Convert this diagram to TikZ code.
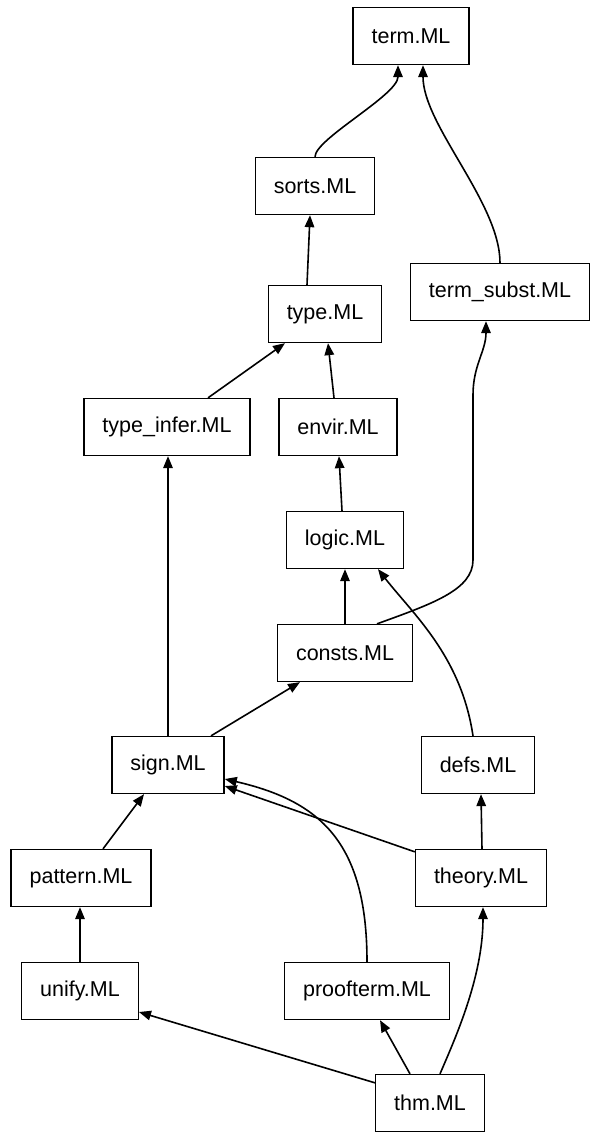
\documentclass[tikz,border=0pt]{standalone}
\usepackage{fontspec}
\setmainfont{Liberation Sans}
\usetikzlibrary{arrows.meta}

\begin{document}
\begin{tikzpicture}[x=1pt, y=-1pt,
	mod/.style={draw, line width=1.3pt, minimum height=57pt, inner xsep=18.5pt, font=\fontsize{21.5}{25}\selectfont},
	dep/.style={line width=1.6pt, -{Triangle[length=12pt,width=9.5pt]}}]
	\useasboundingbox (0,0) rectangle (589,1132);
	% modules
	\node[mod] (term) at (411,36) {term.ML};
	\node[mod] (sorts) at (315,186) {sorts.ML};
	\node[mod] (subst) at (500,292) {term\_subst.ML};
	\node[mod] (type) at (325,314) {type.ML};
	\node[mod] (infer) at (167,427) {type\_infer.ML};
	\node[mod] (envir) at (338,427) {envir.ML};
	\node[mod] (logic) at (345,540) {logic.ML};
	\node[mod] (consts) at (345,653) {consts.ML};
	\node[mod] (sign) at (168,765) {sign.ML};
	\node[mod] (defs) at (478,765) {defs.ML};
	\node[mod] (pattern) at (81,878) {pattern.ML};
	\node[mod] (theory) at (481,878) {theory.ML};
	\node[mod] (unify) at (80,991) {unify.ML};
	\node[mod] (proof) at (367,991) {proofterm.ML};
	\node[mod] (thm) at (430,1103) {thm.ML};
	% dependencies
	\draw[dep] (sorts.north) .. controls +(0,-18) and +(0,30) .. ([xshift=-13pt]term.south);
	\draw[dep] (subst.north) .. controls +(0,-60) and +(0,60) .. ([xshift=12pt]term.south);
	\draw[dep] ([xshift=-18pt]type.north) -- ([xshift=-5pt]sorts.south);
	\draw[dep] ([xshift=41pt]infer.north) -- ([xshift=-40pt]type.south);
	\draw[dep] ([xshift=-4pt]envir.north) -- ([xshift=3pt]type.south);
	\draw[dep] ([xshift=-3pt]logic.north) -- ([xshift=1pt]envir.south);
	\draw[dep] (consts.north) -- (logic.south);
	\draw[dep] ([xshift=32pt]consts.north) .. controls +(55,-20) and +(0,30) .. (473,560)
		-- (473,395) .. controls +(0,-30) and +(0,30) .. ([xshift=-14pt]subst.south);
	\draw[dep] ([xshift=-5pt]defs.north) .. controls +(-12,-80) and +(35,45) .. ([xshift=33pt]logic.south);
	\draw[dep] ([xshift=43pt]sign.north) -- ([xshift=-45pt]consts.south);
	\draw[dep] (sign.north) -- ([xshift=1pt]infer.south);
	\draw[dep] ([xshift=1pt]theory.north) -- ([xshift=3pt]defs.south);
	\draw[dep] ([yshift=-3pt]theory.north west) -- ([yshift=-21pt]sign.east);
	\draw[dep] (proof.north) .. controls +(0,-120) and +(95,22) .. ([yshift=-14pt]sign.east);
	\draw[dep] ([xshift=22pt]pattern.north) -- ([xshift=-24pt]sign.south);
	\draw[dep] (unify.north) -- ([xshift=-1pt]pattern.south);
	\draw[dep] ([yshift=-9pt]thm.north west) -- ([yshift=-21pt]unify.east);
	\draw[dep] ([xshift=-20pt]thm.north) -- ([xshift=13pt]proof.south);
	\draw[dep] ([xshift=10pt]thm.north) .. controls +(15,-35) and +(0,70) .. ([xshift=2pt]theory.south);
\end{tikzpicture}
\end{document}
